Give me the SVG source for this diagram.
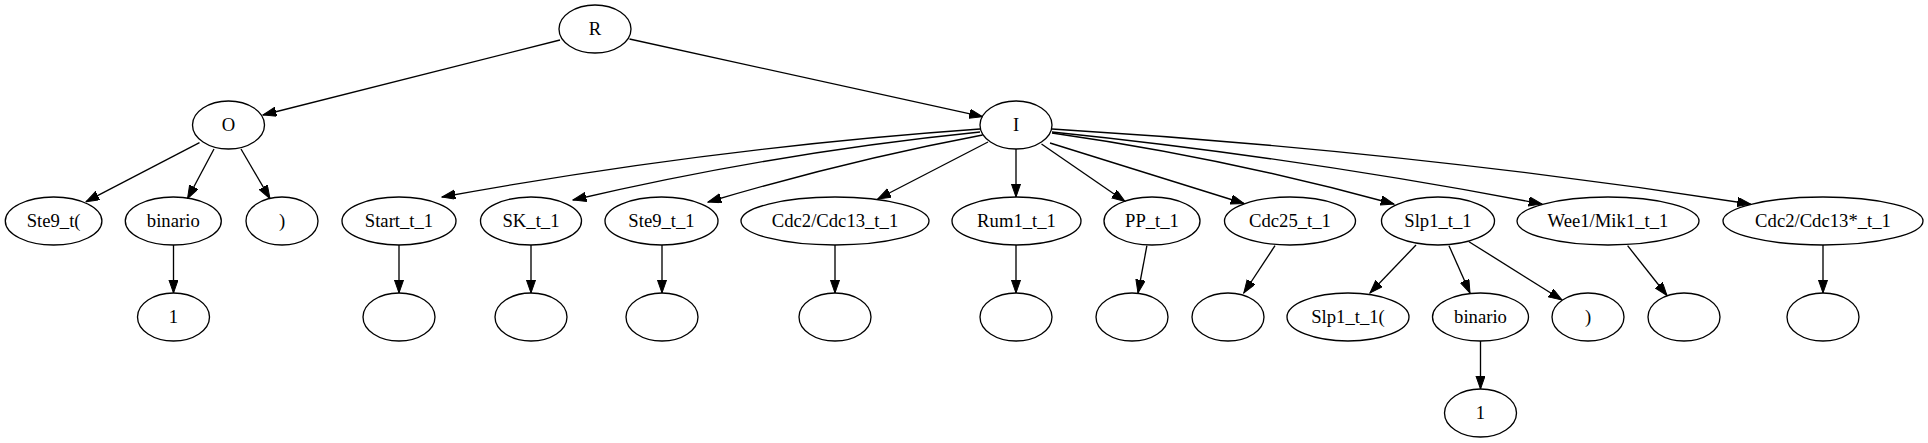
<svg xmlns="http://www.w3.org/2000/svg" width="1928" height="443" viewBox="0 0 1928 443">
<style>
ellipse{fill:none;stroke:#000;stroke-width:1.33}
text{font-family:"Liberation Serif","Times New Roman",serif;font-size:18.67px;text-anchor:middle;fill:#000}
#edges path{fill:none;stroke:#000;stroke-width:1.33;marker-end:url(#ah)}
</style>
<defs>
<marker id="ah" markerUnits="userSpaceOnUse" markerWidth="14" markerHeight="10" refX="13.3" refY="4.67" orient="auto" viewBox="0 0 14 10">
<path d="M0,0 L13.3,4.67 L0,9.33 Z" fill="#000" stroke="#000" stroke-width="1"/>
</marker>
</defs>
<rect width="1928" height="443" fill="#fff"/>
<g id="edges">
<path d="M560,40 L263,115"/>
<path d="M629.5,39 L982.6,116.7"/>
<path d="M199.5,142.7 L86,201.7"/>
<path d="M214,149 L187.5,198.7"/>
<path d="M241,149 L270,198.7"/>
<path d="M173.5,245 L173.5,293"/>
<path d="M980,129 C800.7,141.7 621.3,164.3 442,197"/>
<path d="M980,132 C844.3,145.7 708.7,168.3 573,200"/>
<path d="M982.6,135 C891,152.3 799.6,174.7 708,202"/>
<path d="M988,142 L877.7,199"/>
<path d="M1016,149 L1016,197"/>
<path d="M1041.5,144 L1125,201.5"/>
<path d="M1050,143 L1244,203.5"/>
<path d="M1052,133 C1166,149.2 1280,172.8 1394,204"/>
<path d="M1052,132 C1215.3,148.8 1378.7,172.8 1542,204"/>
<path d="M1052,129 C1284.8,143 1517.7,168 1750.5,204"/>
<path d="M399,245 L399,293"/>
<path d="M531,245 L531,293"/>
<path d="M662,245 L662,293"/>
<path d="M835,245 L835,293"/>
<path d="M1016,245 L1016,293"/>
<path d="M1146.9,245.7 L1138,293"/>
<path d="M1275,245.7 L1243.8,293"/>
<path d="M1416,245 L1370,293"/>
<path d="M1449,245.7 L1470,293"/>
<path d="M1469,241.7 L1562,300"/>
<path d="M1627.6,245.7 L1667,295.5"/>
<path d="M1823,245 L1823,293"/>
<path d="M1480.5,341 L1480.5,389"/>
</g>
<g id="n_R"><ellipse cx="595" cy="29" rx="36" ry="24"/><text x="595" y="35">R</text></g>
<g id="n_O"><ellipse cx="228.5" cy="125" rx="36" ry="24"/><text x="228.5" y="131">O</text></g>
<g id="n_I"><ellipse cx="1016" cy="125" rx="36" ry="24"/><text x="1016" y="131">I</text></g>
<g id="n_ste9open"><ellipse cx="53.6" cy="221" rx="48.3" ry="24"/><text x="53.6" y="227">Ste9_t(</text></g>
<g id="n_binario1"><ellipse cx="173.3" cy="221" rx="48" ry="24"/><text x="173.3" y="227">binario</text></g>
<g id="n_close1"><ellipse cx="282" cy="221" rx="36" ry="24"/><text x="282" y="227">)</text></g>
<g id="n_start"><ellipse cx="399" cy="221" rx="57" ry="24"/><text x="399" y="227">Start_t_1</text></g>
<g id="n_sk"><ellipse cx="531" cy="221" rx="50.5" ry="24"/><text x="531" y="227">SK_t_1</text></g>
<g id="n_ste9"><ellipse cx="661.5" cy="221" rx="56.5" ry="24"/><text x="661.5" y="227">Ste9_t_1</text></g>
<g id="n_cdc2cdc13"><ellipse cx="835" cy="221" rx="94" ry="24"/><text x="835" y="227">Cdc2/Cdc13_t_1</text></g>
<g id="n_rum1"><ellipse cx="1016.5" cy="221" rx="64.5" ry="24"/><text x="1016.5" y="227">Rum1_t_1</text></g>
<g id="n_pp"><ellipse cx="1152" cy="221" rx="48" ry="24"/><text x="1152" y="227">PP_t_1</text></g>
<g id="n_cdc25"><ellipse cx="1290" cy="221" rx="65.5" ry="24"/><text x="1290" y="227">Cdc25_t_1</text></g>
<g id="n_slp1"><ellipse cx="1438" cy="221" rx="56.5" ry="24"/><text x="1438" y="227">Slp1_t_1</text></g>
<g id="n_wee1"><ellipse cx="1608" cy="221" rx="91" ry="24"/><text x="1608" y="227">Wee1/Mik1_t_1</text></g>
<g id="n_cdc2star"><ellipse cx="1823" cy="221" rx="100" ry="24"/><text x="1823" y="227">Cdc2/Cdc13*_t_1</text></g>
<g id="n_one1"><ellipse cx="173.5" cy="317" rx="36" ry="24"/><text x="173.5" y="323">1</text></g>
<g id="n_start_c"><ellipse cx="399" cy="317" rx="36" ry="24"/></g>
<g id="n_sk_c"><ellipse cx="531" cy="317" rx="36" ry="24"/></g>
<g id="n_ste9_c"><ellipse cx="662" cy="317" rx="36" ry="24"/></g>
<g id="n_cdc2cdc13_c"><ellipse cx="835" cy="317" rx="36" ry="24"/></g>
<g id="n_rum1_c"><ellipse cx="1016" cy="317" rx="36" ry="24"/></g>
<g id="n_pp_c"><ellipse cx="1132" cy="317" rx="36" ry="24"/></g>
<g id="n_cdc25_c"><ellipse cx="1228" cy="317" rx="36" ry="24"/></g>
<g id="n_slp1open"><ellipse cx="1348" cy="317" rx="61" ry="24"/><text x="1348" y="323">Slp1_t_1(</text></g>
<g id="n_binario2"><ellipse cx="1480.5" cy="317" rx="48" ry="24"/><text x="1480.5" y="323">binario</text></g>
<g id="n_close2"><ellipse cx="1588" cy="317" rx="36" ry="24"/><text x="1588" y="323">)</text></g>
<g id="n_wee1_c"><ellipse cx="1684" cy="317" rx="36" ry="24"/></g>
<g id="n_cdc2star_c"><ellipse cx="1823" cy="317" rx="36" ry="24"/></g>
<g id="n_one2"><ellipse cx="1480.5" cy="413" rx="36" ry="24"/><text x="1480.5" y="419">1</text></g>
</svg>
